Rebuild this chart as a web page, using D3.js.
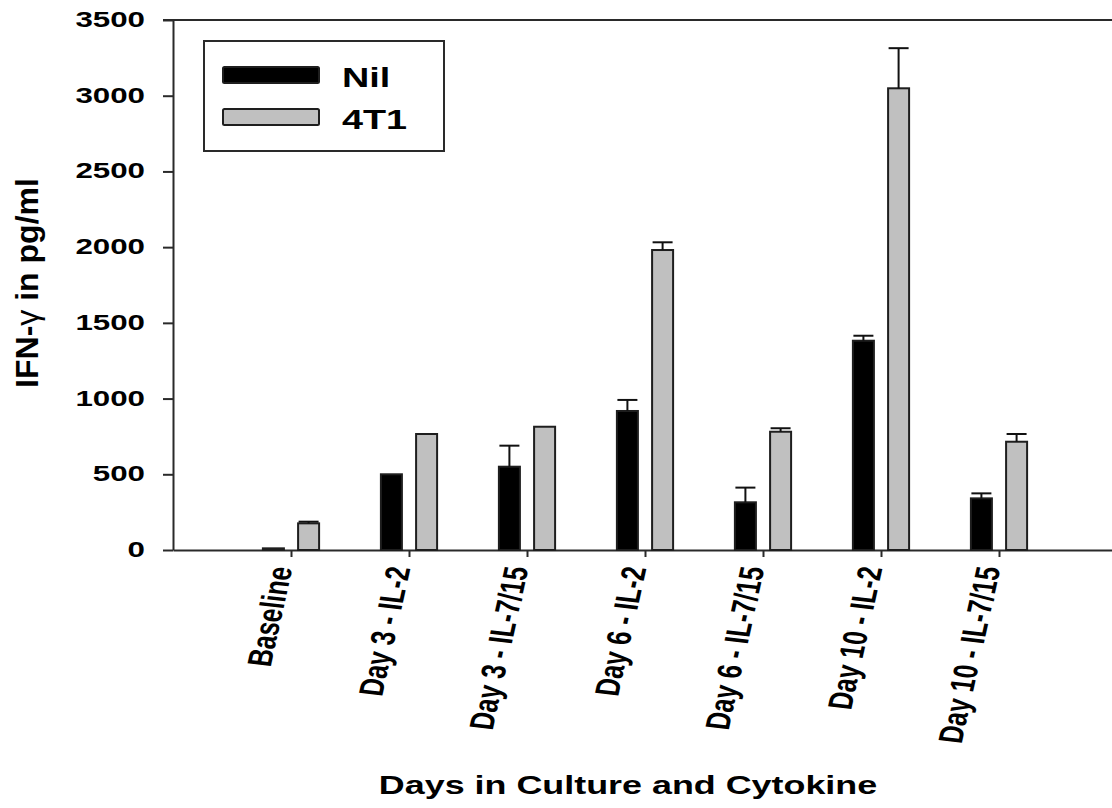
<!DOCTYPE html>
<html>
<head>
<meta charset="utf-8">
<script src="https://cdn.jsdelivr.net/npm/d3@7/dist/d3.min.js"></script>
<style>
  html, body { margin: 0; padding: 0; background: #fff; }
  svg { display: block; }
  text { font-family: "Liberation Sans", Arial, sans-serif; font-weight: bold; fill: #000; }
</style>
</head>
<body>
<svg id="chart" width="1112" height="808"></svg>
<script>
// IFN-gamma release by culture day and cytokine
const categories = ["Baseline", "Day 3 - IL-2", "Day 3 - IL-7/15", "Day 6 - IL-2",
                    "Day 6 - IL-7/15", "Day 10 - IL-2", "Day 10 - IL-7/15"];
const seriesNames = ["Nil", "4T1"];
const nilValues = [11, 500, 550, 918, 315, 1382, 341];
const nilErrors = [0, 0, 139, 73, 97, 33, 33];
const t41Values = [176, 766, 814, 1981, 781, 3049, 715];
const t41Errors = [11, 0, 0, 51, 23, 265, 51];
const yTicks = [0, 500, 1000, 1500, 2000, 2500, 3000, 3500];
const yTitle = "IFN-";
const yTitleGreek = "\u03b3";
const yTitleRest = " in pg/ml";
const xTitle = "Days in Culture and Cytokine";

const seriesFill = { "Nil": "#000000", "4T1": "#c0c0c0" };

const rows = [];
categories.forEach((c, i) => {
  rows.push({ cat: c, series: "Nil", value: nilValues[i], err: nilErrors[i] });
  rows.push({ cat: c, series: "4T1", value: t41Values[i], err: t41Errors[i] });
});

const svg = d3.select("#chart");
const axisColor = "#2a2a2a";

const y = d3.scaleLinear().domain([0, 3500]).range([550, 20]);
const x0 = d3.scalePoint().domain(categories).range([173, 1117]).padding(1);
const x1 = d3.scaleBand().domain(seriesNames).range([-28.1, 28.1]).paddingInner(0.403);

// top frame line
svg.append("line")
  .attr("x1", 163).attr("x2", 1117)
  .attr("y1", y(3500)).attr("y2", y(3500))
  .attr("stroke", axisColor).attr("stroke-width", 2);

// y axis
const yAxis = svg.append("g")
  .attr("transform", "translate(173,0)")
  .call(d3.axisLeft(y).tickValues(yTicks).tickSize(10).tickSizeOuter(0).tickFormat(d3.format("d")));
yAxis.selectAll("path, line").attr("stroke", axisColor).attr("stroke-width", 2);
yAxis.selectAll("text")
  .attr("x", null).attr("dy", null)
  .attr("text-anchor", "end")
  .style("font-size", "22.5px")
  .style("font-family", "'Liberation Sans', Arial, sans-serif")
  .style("font-weight", "bold")
  .attr("fill", "#000")
  .attr("transform", "translate(-28,6.5) scale(1.39,1)");

// x axis
const xAxis = svg.append("g")
  .attr("transform", "translate(0,550)")
  .call(d3.axisBottom(x0).tickSize(7).tickSizeOuter(0));
xAxis.selectAll("path, line").attr("stroke", axisColor).attr("stroke-width", 2);
xAxis.selectAll("text")
  .attr("y", null).attr("dy", null)
  .attr("text-anchor", "end")
  .style("font-size", "24.5px")
  .style("font-family", "'Liberation Sans', Arial, sans-serif")
  .style("font-weight", "bold")
  .attr("fill", "#000")
  .attr("transform", "translate(1,18) scale(1.4,1) rotate(-81)");

// bars
svg.append("g").selectAll("rect")
  .data(rows)
  .join("rect")
  .attr("x", d => x0(d.cat) + x1(d.series))
  .attr("y", d => y(d.value))
  .attr("width", x1.bandwidth())
  .attr("height", d => y(0) - y(d.value))
  .attr("fill", d => seriesFill[d.series])
  .attr("stroke", "#1e1e1e")
  .attr("stroke-width", 2);

// error bars (upper only)
const errRows = rows.filter(d => d.err > 0);
const eg = svg.append("g").attr("stroke", "#111").attr("stroke-width", 2);
eg.selectAll("line.stem")
  .data(errRows)
  .join("line")
  .attr("class", "stem")
  .attr("x1", d => x0(d.cat) + x1(d.series) + x1.bandwidth() / 2)
  .attr("x2", d => x0(d.cat) + x1(d.series) + x1.bandwidth() / 2)
  .attr("y1", d => y(d.value))
  .attr("y2", d => y(d.value + d.err));
eg.selectAll("line.cap")
  .data(errRows)
  .join("line")
  .attr("class", "cap")
  .attr("x1", d => x0(d.cat) + x1(d.series) + x1.bandwidth() / 2 - 10)
  .attr("x2", d => x0(d.cat) + x1(d.series) + x1.bandwidth() / 2 + 10)
  .attr("y1", d => y(d.value + d.err))
  .attr("y2", d => y(d.value + d.err));

// legend
const legend = svg.append("g");
legend.append("rect")
  .attr("x", 204).attr("y", 41).attr("width", 240).attr("height", 110)
  .attr("fill", "none").attr("stroke", axisColor).attr("stroke-width", 2);
seriesNames.forEach((s, i) => {
  const top = 67 + i * 42;
  legend.append("rect")
    .attr("x", 223).attr("y", top).attr("width", 96).attr("height", 16)
    .attr("rx", 1.5)
    .attr("fill", seriesFill[s]).attr("stroke", "#1e1e1e").attr("stroke-width", 2);
  legend.append("text")
    .attr("transform", `translate(342,${top + 20}) scale(1.4,1)`)
    .style("font-size", "27px")
    .text(s);
});

// axis titles
const yt = svg.append("text")
  .attr("transform", "translate(38,283) rotate(-90)")
  .attr("text-anchor", "middle")
  .style("font-size", "32px");
yt.append("tspan").text(yTitle);
yt.append("tspan").style("font-weight", "normal").text(yTitleGreek);
yt.append("tspan").text(yTitleRest);

svg.append("text")
  .attr("transform", "translate(628,794) scale(1.38,1)")
  .attr("text-anchor", "middle")
  .style("font-size", "26px")
  .text(xTitle);
</script>
</body>
</html>
